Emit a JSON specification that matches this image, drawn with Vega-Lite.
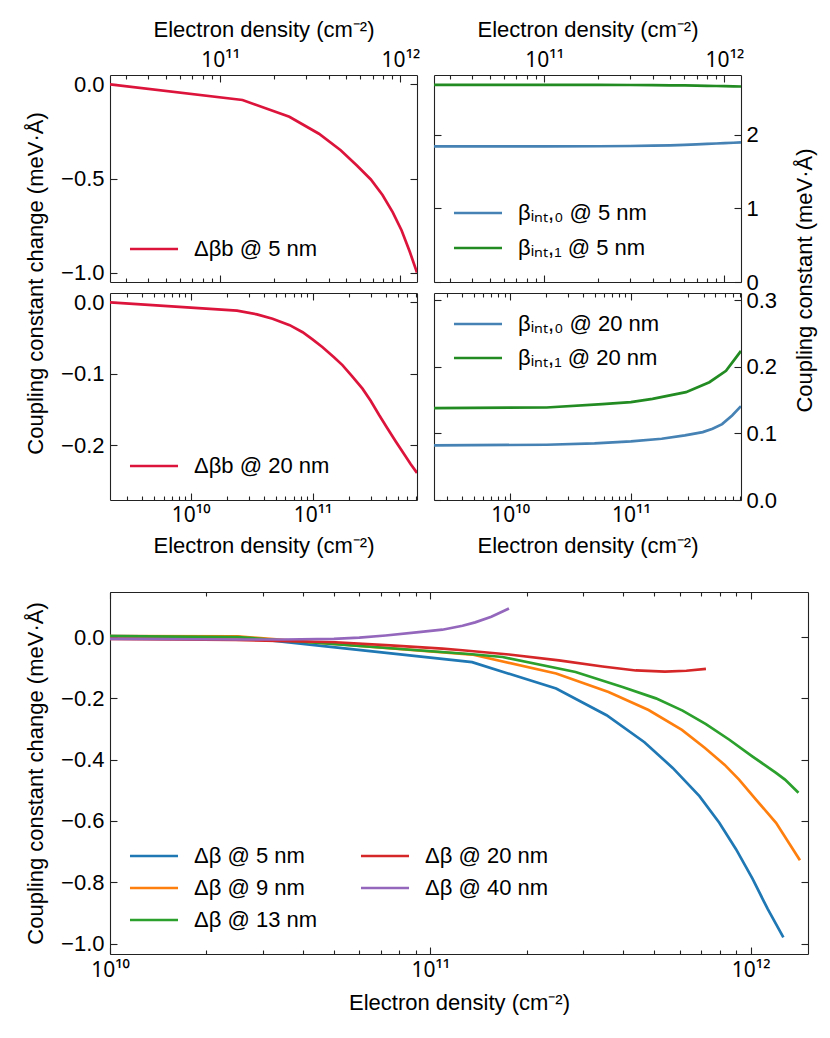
{
  "$schema": "https://vega.github.io/schema/vega-lite/v6.json",
  "background": "white",
  "padding": {"left": 23, "top": 18, "right": 5, "bottom": 5},
  "config": {
    "font": "Liberation Sans",
    "view": {"stroke": null},
    "axis": {"grid": false, "labelFont": "Liberation Sans", "labelFontSize": 22, "labelColor": "#000", "titleFont": "Liberation Sans", "titleFontSize": 22, "titleFontWeight": "normal", "titleColor": "#000", "domainColor": "#222", "domainWidth": 1.1, "tickColor": "#222", "tickWidth": 1.1, "labelFlush": false, "labelOverlap": false},
    "axisX": {"labelFont": "Noto Sans", "labelFontSize": 21},
    "legend": {"labelFont": "Liberation Sans", "labelFontSize": 22, "labelColor": "#000", "padding": 0, "symbolType": "M-2.5,0H2.5", "symbolSize": 369, "symbolStrokeWidth": 2.7, "labelOffset": 29, "labelLimit": 400, "title": null}
  },
  "datasets": {
    "tl": [
      {"n": 2.45e10, "v": 0.0, "s": "Δβb @ 5 nm"},
      {"n": 1.33e11, "v": -0.083, "s": "Δβb @ 5 nm"},
      {"n": 2.42e11, "v": -0.172, "s": "Δβb @ 5 nm"},
      {"n": 3.53e11, "v": -0.262, "s": "Δβb @ 5 nm"},
      {"n": 4.66e11, "v": -0.35, "s": "Δβb @ 5 nm"},
      {"n": 5.75e11, "v": -0.432, "s": "Δβb @ 5 nm"},
      {"n": 6.85e11, "v": -0.505, "s": "Δβb @ 5 nm"},
      {"n": 7.95e11, "v": -0.588, "s": "Δβb @ 5 nm"},
      {"n": 9.05e11, "v": -0.679, "s": "Δβb @ 5 nm"},
      {"n": 1.015e12, "v": -0.776, "s": "Δβb @ 5 nm"},
      {"n": 1.125e12, "v": -0.888, "s": "Δβb @ 5 nm"},
      {"n": 1.235e12, "v": -1.0, "s": "Δβb @ 5 nm"}
    ],
    "tr": [
      {"n": 2.45e10, "v": 1.84, "s": "βᵢₙₜ,₀ @ 5 nm"},
      {"n": 1.0e11, "v": 1.841, "s": "βᵢₙₜ,₀ @ 5 nm"},
      {"n": 2.0e11, "v": 1.843, "s": "βᵢₙₜ,₀ @ 5 nm"},
      {"n": 3.0e11, "v": 1.846, "s": "βᵢₙₜ,₀ @ 5 nm"},
      {"n": 4.0e11, "v": 1.85, "s": "βᵢₙₜ,₀ @ 5 nm"},
      {"n": 5.0e11, "v": 1.855, "s": "βᵢₙₜ,₀ @ 5 nm"},
      {"n": 6.0e11, "v": 1.861, "s": "βᵢₙₜ,₀ @ 5 nm"},
      {"n": 7.0e11, "v": 1.867, "s": "βᵢₙₜ,₀ @ 5 nm"},
      {"n": 8.0e11, "v": 1.874, "s": "βᵢₙₜ,₀ @ 5 nm"},
      {"n": 9.0e11, "v": 1.88, "s": "βᵢₙₜ,₀ @ 5 nm"},
      {"n": 1.0e12, "v": 1.886, "s": "βᵢₙₜ,₀ @ 5 nm"},
      {"n": 1.12e12, "v": 1.89, "s": "βᵢₙₜ,₀ @ 5 nm"},
      {"n": 1.235e12, "v": 1.895, "s": "βᵢₙₜ,₀ @ 5 nm"},
      {"n": 2.45e10, "v": 2.676, "s": "βᵢₙₜ,₁ @ 5 nm"},
      {"n": 1.0e11, "v": 2.676, "s": "βᵢₙₜ,₁ @ 5 nm"},
      {"n": 2.0e11, "v": 2.675, "s": "βᵢₙₜ,₁ @ 5 nm"},
      {"n": 3.0e11, "v": 2.674, "s": "βᵢₙₜ,₁ @ 5 nm"},
      {"n": 4.0e11, "v": 2.672, "s": "βᵢₙₜ,₁ @ 5 nm"},
      {"n": 5.0e11, "v": 2.67, "s": "βᵢₙₜ,₁ @ 5 nm"},
      {"n": 6.0e11, "v": 2.668, "s": "βᵢₙₜ,₁ @ 5 nm"},
      {"n": 7.0e11, "v": 2.666, "s": "βᵢₙₜ,₁ @ 5 nm"},
      {"n": 8.0e11, "v": 2.663, "s": "βᵢₙₜ,₁ @ 5 nm"},
      {"n": 9.0e11, "v": 2.661, "s": "βᵢₙₜ,₁ @ 5 nm"},
      {"n": 1.0e12, "v": 2.659, "s": "βᵢₙₜ,₁ @ 5 nm"},
      {"n": 1.12e12, "v": 2.656, "s": "βᵢₙₜ,₁ @ 5 nm"},
      {"n": 1.235e12, "v": 2.654, "s": "βᵢₙₜ,₁ @ 5 nm"}
    ],
    "ml": [
      {"n": 2.18e9, "v": 0.0, "s": "Δβb @ 20 nm"},
      {"n": 2.4e10, "v": -0.0116, "s": "Δβb @ 20 nm"},
      {"n": 3.5e10, "v": -0.017, "s": "Δβb @ 20 nm"},
      {"n": 4.7e10, "v": -0.023, "s": "Δβb @ 20 nm"},
      {"n": 6.5e10, "v": -0.032, "s": "Δβb @ 20 nm"},
      {"n": 8.3e10, "v": -0.042, "s": "Δβb @ 20 nm"},
      {"n": 1.0e11, "v": -0.052, "s": "Δβb @ 20 nm"},
      {"n": 1.21e11, "v": -0.063, "s": "Δβb @ 20 nm"},
      {"n": 1.5e11, "v": -0.077, "s": "Δβb @ 20 nm"},
      {"n": 1.76e11, "v": -0.088, "s": "Δβb @ 20 nm"},
      {"n": 2.1e11, "v": -0.103, "s": "Δβb @ 20 nm"},
      {"n": 2.57e11, "v": -0.121, "s": "Δβb @ 20 nm"},
      {"n": 3.0e11, "v": -0.138, "s": "Δβb @ 20 nm"},
      {"n": 3.52e11, "v": -0.158, "s": "Δβb @ 20 nm"},
      {"n": 4.1e11, "v": -0.176, "s": "Δβb @ 20 nm"},
      {"n": 4.82e11, "v": -0.195, "s": "Δβb @ 20 nm"},
      {"n": 5.6e11, "v": -0.212, "s": "Δβb @ 20 nm"},
      {"n": 6.4e11, "v": -0.227, "s": "Δβb @ 20 nm"},
      {"n": 7.2e11, "v": -0.239, "s": "Δβb @ 20 nm"}
    ],
    "mr": [
      {"n": 2.34e9, "v": 0.082, "s": "βᵢₙₜ,₀ @ 20 nm"},
      {"n": 2.0e10, "v": 0.083, "s": "βᵢₙₜ,₀ @ 20 nm"},
      {"n": 5.0e10, "v": 0.085, "s": "βᵢₙₜ,₀ @ 20 nm"},
      {"n": 1.0e11, "v": 0.088, "s": "βᵢₙₜ,₀ @ 20 nm"},
      {"n": 1.8e11, "v": 0.092, "s": "βᵢₙₜ,₀ @ 20 nm"},
      {"n": 2.8e11, "v": 0.097, "s": "βᵢₙₜ,₀ @ 20 nm"},
      {"n": 3.94e11, "v": 0.102, "s": "βᵢₙₜ,₀ @ 20 nm"},
      {"n": 4.75e11, "v": 0.107, "s": "βᵢₙₜ,₀ @ 20 nm"},
      {"n": 5.7e11, "v": 0.114, "s": "βᵢₙₜ,₀ @ 20 nm"},
      {"n": 6.9e11, "v": 0.127, "s": "βᵢₙₜ,₀ @ 20 nm"},
      {"n": 8.17e11, "v": 0.141, "s": "βᵢₙₜ,₀ @ 20 nm"},
      {"n": 2.34e9, "v": 0.138, "s": "βᵢₙₜ,₁ @ 20 nm"},
      {"n": 2.0e10, "v": 0.139, "s": "βᵢₙₜ,₁ @ 20 nm"},
      {"n": 5.8e10, "v": 0.144, "s": "βᵢₙₜ,₁ @ 20 nm"},
      {"n": 1.0e11, "v": 0.147, "s": "βᵢₙₜ,₁ @ 20 nm"},
      {"n": 1.51e11, "v": 0.152, "s": "βᵢₙₜ,₁ @ 20 nm"},
      {"n": 2.86e11, "v": 0.162, "s": "βᵢₙₜ,₁ @ 20 nm"},
      {"n": 4.47e11, "v": 0.177, "s": "βᵢₙₜ,₁ @ 20 nm"},
      {"n": 6.14e11, "v": 0.194, "s": "βᵢₙₜ,₁ @ 20 nm"},
      {"n": 8.17e11, "v": 0.224, "s": "βᵢₙₜ,₁ @ 20 nm"}
    ],
    "bt": [
      {"n": 1.0e10, "v": 0.003, "s": "Δβ @ 5 nm"},
      {"n": 2.5e10, "v": 0.001, "s": "Δβ @ 5 nm"},
      {"n": 1.35e11, "v": -0.082, "s": "Δβ @ 5 nm"},
      {"n": 2.47e11, "v": -0.168, "s": "Δβ @ 5 nm"},
      {"n": 3.55e11, "v": -0.255, "s": "Δβ @ 5 nm"},
      {"n": 4.66e11, "v": -0.343, "s": "Δβ @ 5 nm"},
      {"n": 5.71e11, "v": -0.427, "s": "Δβ @ 5 nm"},
      {"n": 6.92e11, "v": -0.519, "s": "Δβ @ 5 nm"},
      {"n": 7.98e11, "v": -0.606, "s": "Δβ @ 5 nm"},
      {"n": 9.0e11, "v": -0.692, "s": "Δβ @ 5 nm"},
      {"n": 1.014e12, "v": -0.789, "s": "Δβ @ 5 nm"},
      {"n": 1.13e12, "v": -0.887, "s": "Δβ @ 5 nm"},
      {"n": 1.265e12, "v": -0.98, "s": "Δβ @ 5 nm"},
      {"n": 1.0e10, "v": 0.003, "s": "Δβ @ 9 nm"},
      {"n": 2.5e10, "v": 0.002, "s": "Δβ @ 9 nm"},
      {"n": 1.35e11, "v": -0.057, "s": "Δβ @ 9 nm"},
      {"n": 2.47e11, "v": -0.119, "s": "Δβ @ 9 nm"},
      {"n": 3.6e11, "v": -0.179, "s": "Δβ @ 9 nm"},
      {"n": 4.8e11, "v": -0.238, "s": "Δβ @ 9 nm"},
      {"n": 6.1e11, "v": -0.303, "s": "Δβ @ 9 nm"},
      {"n": 7.2e11, "v": -0.362, "s": "Δβ @ 9 nm"},
      {"n": 8.3e11, "v": -0.417, "s": "Δβ @ 9 nm"},
      {"n": 9.2e11, "v": -0.465, "s": "Δβ @ 9 nm"},
      {"n": 1.039e12, "v": -0.53, "s": "Δβ @ 9 nm"},
      {"n": 1.2e12, "v": -0.606, "s": "Δβ @ 9 nm"},
      {"n": 1.425e12, "v": -0.728, "s": "Δβ @ 9 nm"},
      {"n": 1.0e10, "v": 0.003, "s": "Δβ @ 13 nm"},
      {"n": 2.5e10, "v": 0.0, "s": "Δβ @ 13 nm"},
      {"n": 1.35e11, "v": -0.056, "s": "Δβ @ 13 nm"},
      {"n": 1.68e11, "v": -0.065, "s": "Δβ @ 13 nm"},
      {"n": 2.84e11, "v": -0.114, "s": "Δβ @ 13 nm"},
      {"n": 3.98e11, "v": -0.163, "s": "Δβ @ 13 nm"},
      {"n": 5.06e11, "v": -0.2, "s": "Δβ @ 13 nm"},
      {"n": 6.13e11, "v": -0.24, "s": "Δβ @ 13 nm"},
      {"n": 7.25e11, "v": -0.284, "s": "Δβ @ 13 nm"},
      {"n": 8.58e11, "v": -0.335, "s": "Δβ @ 13 nm"},
      {"n": 1.014e12, "v": -0.39, "s": "Δβ @ 13 nm"},
      {"n": 1.2e12, "v": -0.443, "s": "Δβ @ 13 nm"},
      {"n": 1.28e12, "v": -0.465, "s": "Δβ @ 13 nm"},
      {"n": 1.41e12, "v": -0.508, "s": "Δβ @ 13 nm"},
      {"n": 1.0e10, "v": -0.006, "s": "Δβ @ 20 nm"},
      {"n": 2.46e10, "v": -0.009, "s": "Δβ @ 20 nm"},
      {"n": 5.06e10, "v": -0.017, "s": "Δβ @ 20 nm"},
      {"n": 7.5e10, "v": -0.027, "s": "Δβ @ 20 nm"},
      {"n": 1.09e11, "v": -0.038, "s": "Δβ @ 20 nm"},
      {"n": 1.26e11, "v": -0.043, "s": "Δβ @ 20 nm"},
      {"n": 1.76e11, "v": -0.057, "s": "Δβ @ 20 nm"},
      {"n": 2.52e11, "v": -0.076, "s": "Δβ @ 20 nm"},
      {"n": 3.45e11, "v": -0.096, "s": "Δβ @ 20 nm"},
      {"n": 4.38e11, "v": -0.109, "s": "Δβ @ 20 nm"},
      {"n": 5.4e11, "v": -0.113, "s": "Δβ @ 20 nm"},
      {"n": 6.3e11, "v": -0.11, "s": "Δβ @ 20 nm"},
      {"n": 7.25e11, "v": -0.104, "s": "Δβ @ 20 nm"},
      {"n": 1.0e10, "v": -0.006, "s": "Δβ @ 40 nm"},
      {"n": 2.5e10, "v": -0.008, "s": "Δβ @ 40 nm"},
      {"n": 3.5e10, "v": -0.008, "s": "Δβ @ 40 nm"},
      {"n": 5.0e10, "v": -0.006, "s": "Δβ @ 40 nm"},
      {"n": 6.0e10, "v": -0.002, "s": "Δβ @ 40 nm"},
      {"n": 7.25e10, "v": 0.005, "s": "Δβ @ 40 nm"},
      {"n": 9.2e10, "v": 0.016, "s": "Δβ @ 40 nm"},
      {"n": 1.09e11, "v": 0.024, "s": "Δβ @ 40 nm"},
      {"n": 1.26e11, "v": 0.037, "s": "Δβ @ 40 nm"},
      {"n": 1.38e11, "v": 0.048, "s": "Δβ @ 40 nm"},
      {"n": 1.55e11, "v": 0.066, "s": "Δβ @ 40 nm"},
      {"n": 1.76e11, "v": 0.093, "s": "Δβ @ 40 nm"}
    ]
  },
  "spacing": 35,
  "resolve": {"scale": {"x": "independent", "y": "independent", "color": "independent"}, "legend": {"color": "independent"}},
  "vconcat": [
    {
      "columns": 2,
      "bounds": "flush",
      "spacing": {"row": 11, "column": 17},
      "resolve": {"scale": {"x": "independent", "y": "independent", "color": "independent"}, "legend": {"color": "independent"}},
      "concat": [
        {
          "width": 307, "height": 207,
          "data": {"name": "tl"},
          "resolve": {"axis": {"x": "independent", "y": "independent"}},
          "layer": [
            {
              "mark": {"type": "line", "strokeWidth": 2.7, "clip": true},
              "encoding": {
                "x": {"field": "n", "type": "quantitative", "scale": {"type": "log", "domain": [2.45e10, 1.235e12], "nice": false},
                  "axis": {"orient": "top", "values": [3e10, 4e10, 5e10, 6e10, 7e10, 8e10, 9e10, 1e11, 2e11, 3e11, 4e11, 5e11, 6e11, 7e11, 8e11, 9e11, 1e12],
                    "labelExpr": "datum.value == 10000000000 ? '10¹⁰' : datum.value == 100000000000 ? '10¹¹' : datum.value == 1000000000000 ? '10¹²' : ''",
                    "tickSize": {"condition": {"test": "datum.value == 10000000000 || datum.value == 100000000000 || datum.value == 1000000000000", "value": -7}, "value": -4},
                    "labelPadding": 12, "title": "Electron density (cm⁻²)", "titlePadding": 5}},
                "y": {"field": "v", "type": "quantitative", "scale": {"domain": [-1.05, 0.05], "nice": false, "zero": false},
                  "axis": {"orient": "left", "values": [-1, -0.5, 0], "format": ".1f", "tickSize": -7, "labelPadding": 13,
                    "title": "Coupling constant change (meV·Å)", "titleAngle": 270, "titleBaseline": "top", "titleAlign": "center", "titleX": -85, "titleY": 208}},
                "color": {"field": "s", "type": "nominal", "scale": {"domain": ["Δβb @ 5 nm"], "range": ["#DC143C"]},
                  "legend": {"orient": "none", "legendX": 33, "legendY": 163}}
              }
            },
            {
              "mark": {"type": "point", "opacity": 0},
              "encoding": {
                "x": {"field": "n", "type": "quantitative", "scale": {"type": "log", "domain": [2.45e10, 1.235e12], "nice": false},
                  "axis": {"orient": "bottom", "values": [3e10, 4e10, 5e10, 6e10, 7e10, 8e10, 9e10, 1e11, 2e11, 3e11, 4e11, 5e11, 6e11, 7e11, 8e11, 9e11, 1e12], "labels": false, "title": null,
                    "tickSize": {"condition": {"test": "datum.value == 10000000000 || datum.value == 100000000000 || datum.value == 1000000000000", "value": -7}, "value": -4}}},
                "y": {"field": "v", "type": "quantitative", "scale": {"domain": [-1.05, 0.05], "nice": false, "zero": false},
                  "axis": {"orient": "right", "values": [-1, -0.5, 0], "labels": false, "tickSize": -7, "title": null}}
              }
            }
          ]
        },
        {
          "width": 307, "height": 207,
          "data": {"name": "tr"},
          "resolve": {"axis": {"x": "independent", "y": "independent"}},
          "layer": [
            {
              "mark": {"type": "line", "strokeWidth": 2.7, "clip": true},
              "encoding": {
                "x": {"field": "n", "type": "quantitative", "scale": {"type": "log", "domain": [2.45e10, 1.235e12], "nice": false},
                  "axis": {"orient": "top", "values": [3e10, 4e10, 5e10, 6e10, 7e10, 8e10, 9e10, 1e11, 2e11, 3e11, 4e11, 5e11, 6e11, 7e11, 8e11, 9e11, 1e12],
                    "labelExpr": "datum.value == 10000000000 ? '10¹⁰' : datum.value == 100000000000 ? '10¹¹' : datum.value == 1000000000000 ? '10¹²' : ''",
                    "tickSize": {"condition": {"test": "datum.value == 10000000000 || datum.value == 100000000000 || datum.value == 1000000000000", "value": -7}, "value": -4},
                    "labelPadding": 12, "title": "Electron density (cm⁻²)", "titlePadding": 5}},
                "y": {"field": "v", "type": "quantitative", "scale": {"domain": [0, 2.81], "nice": false, "zero": false},
                  "axis": {"orient": "right", "values": [0, 1, 2], "format": "d", "tickSize": -7, "labelPadding": 12,
                    "title": "Coupling constant (meV·Å)", "titleAngle": 270, "titleBaseline": "top", "titleAlign": "center", "titleX": 53, "titleY": 205}},
                "color": {"field": "s", "type": "nominal", "scale": {"domain": ["βᵢₙₜ,₀ @ 5 nm", "βᵢₙₜ,₁ @ 5 nm"], "range": ["#4682B4", "#228B22"]},
                  "legend": {"orient": "none", "legendX": 33, "legendY": 127, "rowPadding": 13}}
              }
            },
            {
              "mark": {"type": "point", "opacity": 0},
              "encoding": {
                "x": {"field": "n", "type": "quantitative", "scale": {"type": "log", "domain": [2.45e10, 1.235e12], "nice": false},
                  "axis": {"orient": "bottom", "values": [3e10, 4e10, 5e10, 6e10, 7e10, 8e10, 9e10, 1e11, 2e11, 3e11, 4e11, 5e11, 6e11, 7e11, 8e11, 9e11, 1e12], "labels": false, "title": null,
                    "tickSize": {"condition": {"test": "datum.value == 10000000000 || datum.value == 100000000000 || datum.value == 1000000000000", "value": -7}, "value": -4}}},
                "y": {"field": "v", "type": "quantitative", "scale": {"domain": [0, 2.81], "nice": false, "zero": false},
                  "axis": {"orient": "left", "values": [0, 1, 2], "labels": false, "tickSize": -7, "title": null}}
              }
            }
          ]
        },
        {
          "width": 307, "height": 207,
          "data": {"name": "ml"},
          "resolve": {"axis": {"x": "independent", "y": "independent"}},
          "layer": [
            {
              "mark": {"type": "line", "strokeWidth": 2.7, "clip": true},
              "encoding": {
                "x": {"field": "n", "type": "quantitative", "scale": {"type": "log", "domain": [2.18e9, 7.2e11], "nice": false},
                  "axis": {"orient": "bottom", "values": [3e9, 4e9, 5e9, 6e9, 7e9, 8e9, 9e9, 1e10, 2e10, 3e10, 4e10, 5e10, 6e10, 7e10, 8e10, 9e10, 1e11, 2e11, 3e11, 4e11, 5e11, 6e11, 7e11],
                    "labelExpr": "datum.value == 10000000000 ? '10¹⁰' : datum.value == 100000000000 ? '10¹¹' : datum.value == 1000000000000 ? '10¹²' : ''",
                    "tickSize": {"condition": {"test": "datum.value == 10000000000 || datum.value == 100000000000 || datum.value == 1000000000000", "value": -7}, "value": -4},
                    "labelPadding": 11, "title": "Electron density (cm⁻²)", "titlePadding": 7}},
                "y": {"field": "v", "type": "quantitative", "scale": {"domain": [-0.277, 0.013], "nice": false, "zero": false},
                  "axis": {"orient": "left", "values": [-0.2, -0.1, 0], "format": ".1f", "tickSize": -7, "labelPadding": 13, "title": null}},
                "color": {"field": "s", "type": "nominal", "scale": {"domain": ["Δβb @ 20 nm"], "range": ["#DC143C"]},
                  "legend": {"orient": "none", "legendX": 33, "legendY": 162}}
              }
            },
            {
              "mark": {"type": "point", "opacity": 0},
              "encoding": {
                "x": {"field": "n", "type": "quantitative", "scale": {"type": "log", "domain": [2.18e9, 7.2e11], "nice": false},
                  "axis": {"orient": "top", "values": [3e9, 4e9, 5e9, 6e9, 7e9, 8e9, 9e9, 1e10, 2e10, 3e10, 4e10, 5e10, 6e10, 7e10, 8e10, 9e10, 1e11, 2e11, 3e11, 4e11, 5e11, 6e11, 7e11], "labels": false, "title": null,
                    "tickSize": {"condition": {"test": "datum.value == 10000000000 || datum.value == 100000000000 || datum.value == 1000000000000", "value": -7}, "value": -4}}},
                "y": {"field": "v", "type": "quantitative", "scale": {"domain": [-0.277, 0.013], "nice": false, "zero": false},
                  "axis": {"orient": "right", "values": [-0.2, -0.1, 0], "labels": false, "tickSize": -7, "title": null}}
              }
            }
          ]
        },
        {
          "width": 307, "height": 207,
          "data": {"name": "mr"},
          "resolve": {"axis": {"x": "independent", "y": "independent"}},
          "layer": [
            {
              "mark": {"type": "line", "strokeWidth": 2.7, "clip": true},
              "encoding": {
                "x": {"field": "n", "type": "quantitative", "scale": {"type": "log", "domain": [2.34e9, 8.17e11], "nice": false},
                  "axis": {"orient": "bottom", "values": [3e9, 4e9, 5e9, 6e9, 7e9, 8e9, 9e9, 1e10, 2e10, 3e10, 4e10, 5e10, 6e10, 7e10, 8e10, 9e10, 1e11, 2e11, 3e11, 4e11, 5e11, 6e11, 7e11, 8e11],
                    "labelExpr": "datum.value == 10000000000 ? '10¹⁰' : datum.value == 100000000000 ? '10¹¹' : datum.value == 1000000000000 ? '10¹²' : ''",
                    "tickSize": {"condition": {"test": "datum.value == 10000000000 || datum.value == 100000000000 || datum.value == 1000000000000", "value": -7}, "value": -4},
                    "labelPadding": 11, "title": "Electron density (cm⁻²)", "titlePadding": 7}},
                "y": {"field": "v", "type": "quantitative", "scale": {"domain": [0, 0.311], "nice": false, "zero": false},
                  "axis": {"orient": "right", "values": [0, 0.1, 0.2, 0.3], "format": ".1f", "tickSize": -7, "labelPadding": 12, "title": null}},
                "color": {"field": "s", "type": "nominal", "scale": {"domain": ["βᵢₙₜ,₀ @ 20 nm", "βᵢₙₜ,₁ @ 20 nm"], "range": ["#4682B4", "#228B22"]},
                  "legend": {"orient": "none", "legendX": 33, "legendY": 20, "rowPadding": 12}}
              }
            },
            {
              "mark": {"type": "point", "opacity": 0},
              "encoding": {
                "x": {"field": "n", "type": "quantitative", "scale": {"type": "log", "domain": [2.34e9, 8.17e11], "nice": false},
                  "axis": {"orient": "top", "values": [3e9, 4e9, 5e9, 6e9, 7e9, 8e9, 9e9, 1e10, 2e10, 3e10, 4e10, 5e10, 6e10, 7e10, 8e10, 9e10, 1e11, 2e11, 3e11, 4e11, 5e11, 6e11, 7e11, 8e11], "labels": false, "title": null,
                    "tickSize": {"condition": {"test": "datum.value == 10000000000 || datum.value == 100000000000 || datum.value == 1000000000000", "value": -7}, "value": -4}}},
                "y": {"field": "v", "type": "quantitative", "scale": {"domain": [0, 0.311], "nice": false, "zero": false},
                  "axis": {"orient": "left", "values": [0, 0.1, 0.2, 0.3], "labels": false, "tickSize": -7, "title": null}}
              }
            }
          ]
        }
      ]
    },
    {
      "width": 698, "height": 362,
      "data": {"name": "bt"},
      "resolve": {"axis": {"x": "independent", "y": "independent"}},
      "layer": [
        {
          "mark": {"type": "line", "strokeWidth": 2.7, "clip": true},
          "encoding": {
            "x": {"field": "n", "type": "quantitative", "scale": {"type": "log", "domain": [1e10, 1.51e12], "nice": false},
              "axis": {"orient": "bottom", "values": [1e10, 2e10, 3e10, 4e10, 5e10, 6e10, 7e10, 8e10, 9e10, 1e11, 2e11, 3e11, 4e11, 5e11, 6e11, 7e11, 8e11, 9e11, 1e12],
                "labelExpr": "datum.value == 10000000000 ? '10¹⁰' : datum.value == 100000000000 ? '10¹¹' : datum.value == 1000000000000 ? '10¹²' : ''",
                "tickSize": {"condition": {"test": "datum.value == 10000000000 || datum.value == 100000000000 || datum.value == 1000000000000", "value": -7}, "value": -4},
                "labelPadding": 12, "title": "Electron density (cm⁻²)", "titlePadding": 9}},
            "y": {"field": "v", "type": "quantitative", "scale": {"domain": [-1.034, 0.147], "nice": false, "zero": false},
              "axis": {"orient": "left", "values": [-1, -0.8, -0.6, -0.4, -0.2, 0], "format": ".1f", "tickSize": -7, "labelPadding": 13,
                "title": "Coupling constant change (meV·Å)", "titleAngle": 270, "titleBaseline": "top", "titleAlign": "center", "titleX": -85}},
            "color": {"field": "s", "type": "nominal",
              "scale": {"domain": ["Δβ @ 5 nm", "Δβ @ 9 nm", "Δβ @ 13 nm", "Δβ @ 20 nm", "Δβ @ 40 nm"], "range": ["#1f77b4", "#ff7f0e", "#2ca02c", "#d62728", "#9467bd"]},
              "legend": {"orient": "none", "legendX": 33, "legendY": 253, "columns": 2, "rowPadding": 10, "columnPadding": 37}}
          }
        },
        {
          "mark": {"type": "point", "opacity": 0},
          "encoding": {
            "x": {"field": "n", "type": "quantitative", "scale": {"type": "log", "domain": [1e10, 1.51e12], "nice": false},
              "axis": {"orient": "top", "values": [1e10, 2e10, 3e10, 4e10, 5e10, 6e10, 7e10, 8e10, 9e10, 1e11, 2e11, 3e11, 4e11, 5e11, 6e11, 7e11, 8e11, 9e11, 1e12], "labels": false, "title": null,
                "tickSize": {"condition": {"test": "datum.value == 10000000000 || datum.value == 100000000000 || datum.value == 1000000000000", "value": -7}, "value": -4}}},
            "y": {"field": "v", "type": "quantitative", "scale": {"domain": [-1.034, 0.147], "nice": false, "zero": false},
              "axis": {"orient": "right", "values": [-1, -0.8, -0.6, -0.4, -0.2, 0], "labels": false, "tickSize": -7, "title": null}}
          }
        }
      ]
    }
  ]
}
